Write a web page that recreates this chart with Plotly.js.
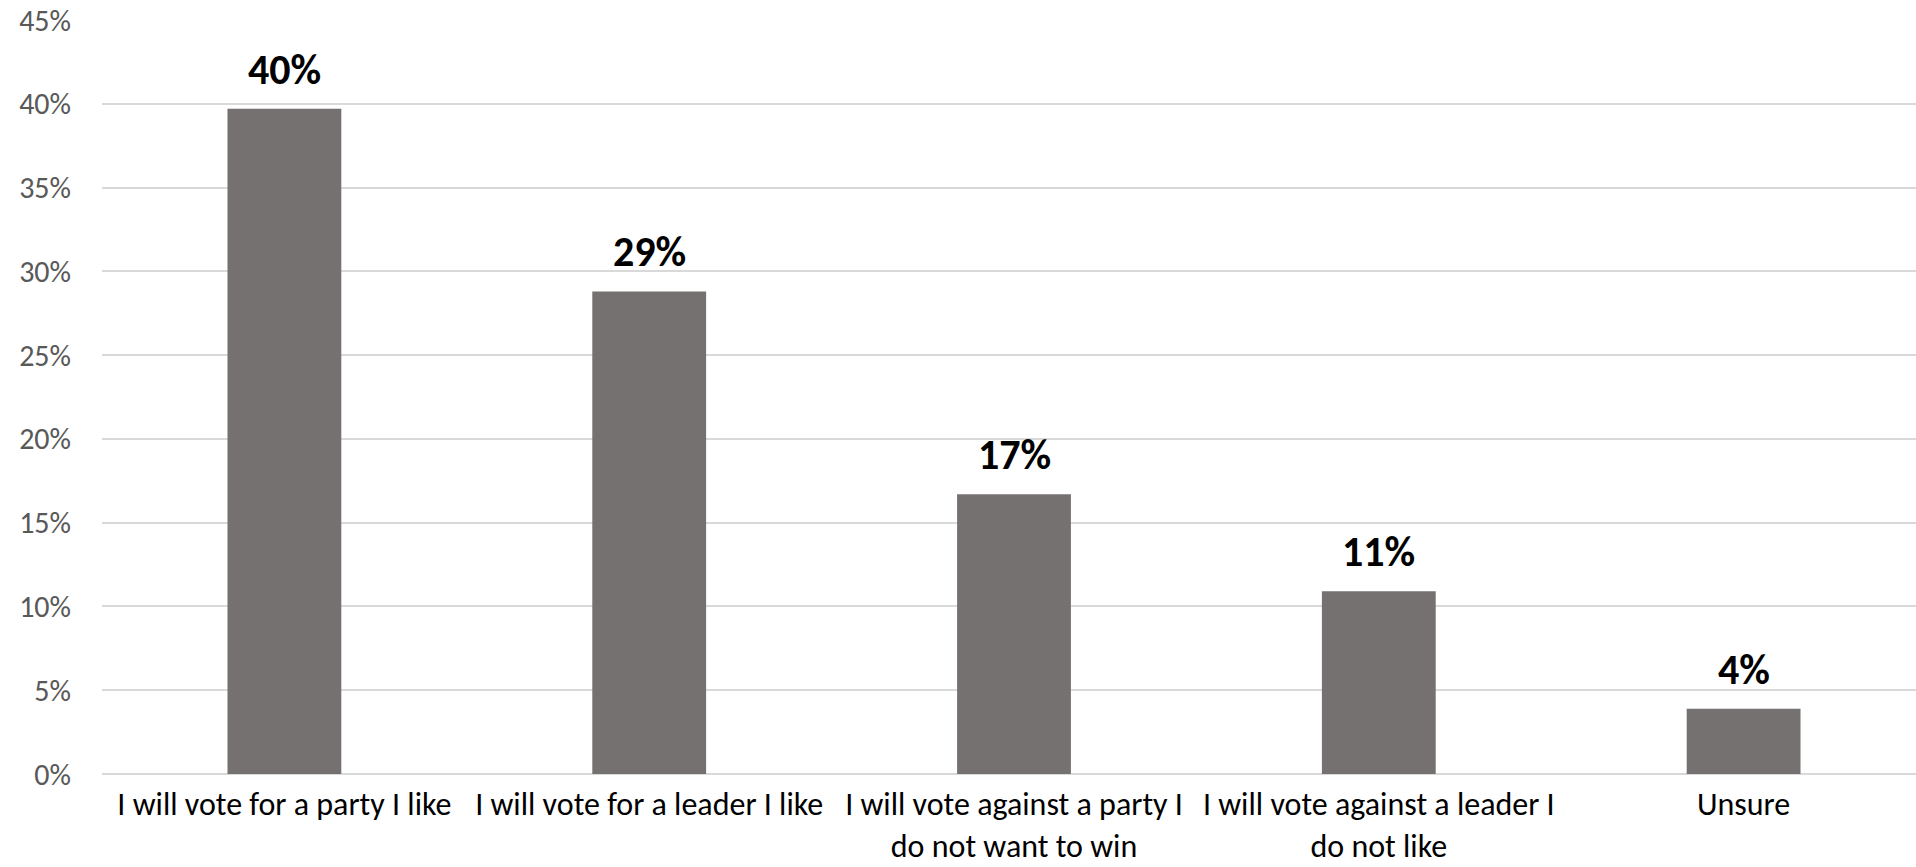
<!DOCTYPE html>
<html><head><meta charset="utf-8">
<script src="https://cdn.plot.ly/plotly-3.0.1.min.js"></script>
<style>html,body{margin:0;padding:0;background:#fff;}#chart{width:1916px;height:867px;}</style>
</head><body><div id="chart"></div>
<script>
const categories = [
  "I will vote for a party I like",
  "I will vote for a leader I like",
  "I will vote against a party I<br>do not want to win",
  "I will vote against a leader I<br>do not like",
  "Unsure"
];
const values = [0.397, 0.288, 0.167, 0.109, 0.039];
const yTickVals = [0, 0.05, 0.10, 0.15, 0.20, 0.25, 0.30, 0.35, 0.40, 0.45];
const yTickText = ["0%", "5%", "10%", "15%", "20%", "25%", "30%", "35%", "40%", "45%"];

const fontFam = "Carlito, Calibri, 'Open Sans', sans-serif";

const trace = {
  type: "bar",
  x: categories,
  y: values,
  marker: {color: "#767171"},
  hoverinfo: "none"
};

const annotations = categories.map((c, i) => ({
  x: c, y: values[i], xref: "x", yref: "y",
  text: "<b>" + Math.round(values[i] * 100) + "%</b>",
  showarrow: false, yanchor: "bottom", yshift: 12,
  font: {family: fontFam, size: 42, color: "#000"}
}));

const layout = {
  width: 1916, height: 867,
  margin: {l: 102, r: 0, t: 20, b: 93},
  paper_bgcolor: "#fff", plot_bgcolor: "#fff",
  showlegend: false,
  bargap: 0.688,
  xaxis: {
    type: "category",
    range: [-0.5, 4.4726],
    showgrid: false, zeroline: false, showline: false,
    ticks: "", ticklabelstandoff: 8,
    tickfont: {family: fontFam, size: 32, color: "#000"}
  },
  yaxis: {
    range: [0, 0.45],
    tickvals: yTickVals, ticktext: yTickText,
    showgrid: true, gridcolor: "#d9d9d9", gridwidth: 2,
    zeroline: true, zerolinecolor: "#d9d9d9", zerolinewidth: 2,
    showline: false, ticks: "", ticklabelstandoff: 30,
    tickfont: {family: fontFam, size: 30, color: "#595959"}
  },
  annotations: annotations
};

Plotly.newPlot("chart", [trace], layout, {displayModeBar: false, staticPlot: true});
</script></body></html>
